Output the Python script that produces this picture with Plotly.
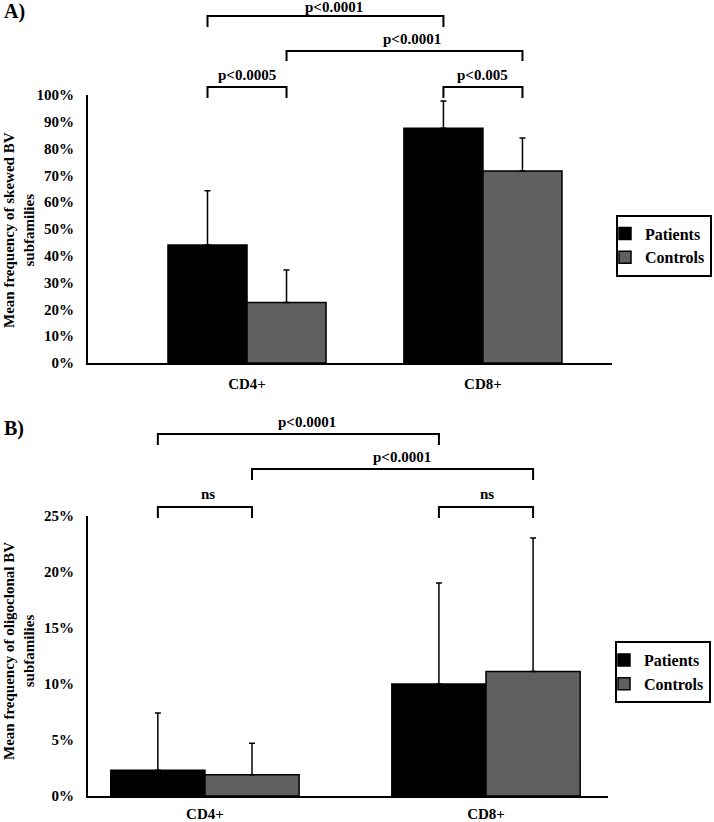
import plotly.graph_objects as go

# ---------------- data ----------------
categories = ["CD4+", "CD8+"]
series_names = ["Patients", "Controls"]

# Panel A: mean frequency of skewed BV subfamilies (%)
skewed_patients = [44.0, 87.6]
skewed_patients_sd = [20.3, 10.2]
skewed_controls = [22.6, 71.6]
skewed_controls_sd = [12.1, 12.4]
skewed_ticks = [0, 10, 20, 30, 40, 50, 60, 70, 80, 90, 100]

# Panel B: mean frequency of oligoclonal BV subfamilies (%)
oligo_patients = [2.3, 10.0]
oligo_patients_sd = [5.1, 9.0]
oligo_controls = [1.9, 11.1]
oligo_controls_sd = [2.8, 11.9]
oligo_ticks = [0, 5, 10, 15, 20, 25]

# significance comparisons
skewed_tests = ["p<0.0001", "p<0.0001", "p<0.0005", "p<0.005"]
oligo_tests = ["p<0.0001", "p<0.0001", "ns", "ns"]

# ---------------- style ----------------
W, H = 714, 822
FONT = "Liberation Serif"
colors = ["#000000", "#606060"]
BARGAP = 0.33
half = (1 - BARGAP) / 4.0  # offset of each bar center from category center

pos = list(range(len(categories)))

fig = go.Figure()


def add_bars(vals, sds, name, color, xa, ya, legend):
    fig.add_trace(go.Bar(
        x=pos, y=vals, name=name, xaxis=xa, yaxis=ya, legend=legend,
        marker=dict(color=color, line=dict(color="black", width=1.5)),
        error_y=dict(type="data", array=sds, arrayminus=[0] * len(sds),
                     symmetric=False, color="black", thickness=1.5, width=3),
    ))


add_bars(skewed_patients, skewed_patients_sd, series_names[0], colors[0], "x", "y", "legend")
add_bars(skewed_controls, skewed_controls_sd, series_names[1], colors[1], "x", "y", "legend")
add_bars(oligo_patients, oligo_patients_sd, series_names[0], colors[0], "x2", "y2", "legend2")
add_bars(oligo_controls, oligo_controls_sd, series_names[1], colors[1], "x2", "y2", "legend2")


def px_to_paper_y(py):
    return 1 - py / H


axis_common = dict(showline=True, linecolor="black", linewidth=2, showgrid=False,
                   zeroline=False, ticks="outside", tickcolor="rgba(0,0,0,0)",
                   tickfont=dict(size=15, family=FONT, color="black", weight="bold"))

legend_common = dict(xanchor="left", yanchor="middle",
                     bordercolor="black", borderwidth=2, bgcolor="white",
                     font=dict(size=16, family=FONT, color="black", weight="bold"),
                     itemwidth=30, tracegroupgap=0, indentation=-13)

fig.update_layout(
    width=W, height=H, margin=dict(l=0, r=0, t=0, b=0, autoexpand=False),
    paper_bgcolor="white", plot_bgcolor="white",
    font=dict(family=FONT, color="black", size=15, weight="bold"),
    barmode="group", bargap=BARGAP, bargroupgap=0,
    xaxis=dict(domain=[88 / W, 612 / W], anchor="y", range=[-0.674, 1.547],
               tickvals=pos, ticktext=categories, ticklen=6, **axis_common),
    yaxis=dict(domain=[px_to_paper_y(363), px_to_paper_y(95)], anchor="x",
               range=[0, 100], tickvals=skewed_ticks,
               ticktext=[f"{t}%" for t in skewed_ticks], ticklen=9, **axis_common),
    xaxis2=dict(domain=[88 / W, 608 / W], anchor="y2", range=[-0.416, 1.434],
                tickvals=pos, ticktext=categories, ticklen=3, **axis_common),
    yaxis2=dict(domain=[px_to_paper_y(796), px_to_paper_y(515.7)], anchor="x2",
                range=[0, 25], tickvals=oligo_ticks,
                ticktext=[f"{t}%" for t in oligo_ticks], ticklen=9, **axis_common),
    legend=dict(x=616 / W, y=px_to_paper_y(245.5), **legend_common),
    legend2=dict(x=615 / W, y=px_to_paper_y(672), **legend_common),
    showlegend=True,
)

shapes = []
annotations = []


def bracket(xref, x0, x1, y_top_px, leg_px, label, label_dx, label_y_px):
    yt = px_to_paper_y(y_top_px)
    yb = px_to_paper_y(y_top_px + leg_px)
    shapes.append(dict(type="path", xref=xref, yref="paper",
                       path=f"M {x0},{yb} L {x0},{yt} L {x1},{yt} L {x1},{yb}",
                       line=dict(color="black", width=2)))
    annotations.append(dict(x=(x0 + x1) / 2 + label_dx, y=px_to_paper_y(label_y_px),
                            xref=xref, yref="paper", text=label, showarrow=False,
                            xanchor="center", yanchor="middle",
                            font=dict(size=15, family=FONT, color="black", weight="bold")))


# Panel A brackets
bracket("x", pos[0] - half, pos[1] - half, 16, 11, skewed_tests[0], 0.035, 7)
bracket("x", pos[0] + half, pos[1] + half, 51, 10, skewed_tests[1], 0.03, 39)
bracket("x", pos[0] - half, pos[0] + half, 87, 11, skewed_tests[2], 0.0, 75)
bracket("x", pos[1] - half, pos[1] + half, 87, 11, skewed_tests[3], 0.0, 75)

# Panel B brackets
bracket("x2", pos[0] - half, pos[1] - half, 434, 11, oligo_tests[0], 0.03, 422)
bracket("x2", pos[0] + half, pos[1] + half, 469, 11, oligo_tests[1], 0.035, 457)
bracket("x2", pos[0] - half, pos[0] + half, 507, 11, oligo_tests[2], 0.01, 494)
bracket("x2", pos[1] - half, pos[1] + half, 507, 11, oligo_tests[3], 0.005, 494)

# panel letters
annotations.append(dict(x=2 / W, y=px_to_paper_y(12), xref="paper", yref="paper",
                        text="A)", showarrow=False, xanchor="left", yanchor="middle",
                        font=dict(size=20, family=FONT, color="black", weight="bold")))
annotations.append(dict(x=2 / W, y=px_to_paper_y(428), xref="paper", yref="paper",
                        text="B)", showarrow=False, xanchor="left", yanchor="middle",
                        font=dict(size=20, family=FONT, color="black", weight="bold")))

# y-axis titles
annotations.append(dict(x=19 / W, y=px_to_paper_y(230), xref="paper", yref="paper",
                        text="Mean frequency of skewed BV<br>subfamilies", textangle=-90,
                        showarrow=False, xanchor="center", yanchor="middle",
                        font=dict(size=15, family=FONT, color="black", weight="bold")))
annotations.append(dict(x=19 / W, y=px_to_paper_y(651), xref="paper", yref="paper",
                        text="Mean frequency of oligoclonal BV<br>subfamilies", textangle=-90,
                        showarrow=False, xanchor="center", yanchor="middle",
                        font=dict(size=15, family=FONT, color="black", weight="bold")))

fig.update_layout(shapes=shapes, annotations=annotations)
fig.write_html("out.html", config={"displayModeBar": False},
               post_script="document.body.style.margin='0px';")
